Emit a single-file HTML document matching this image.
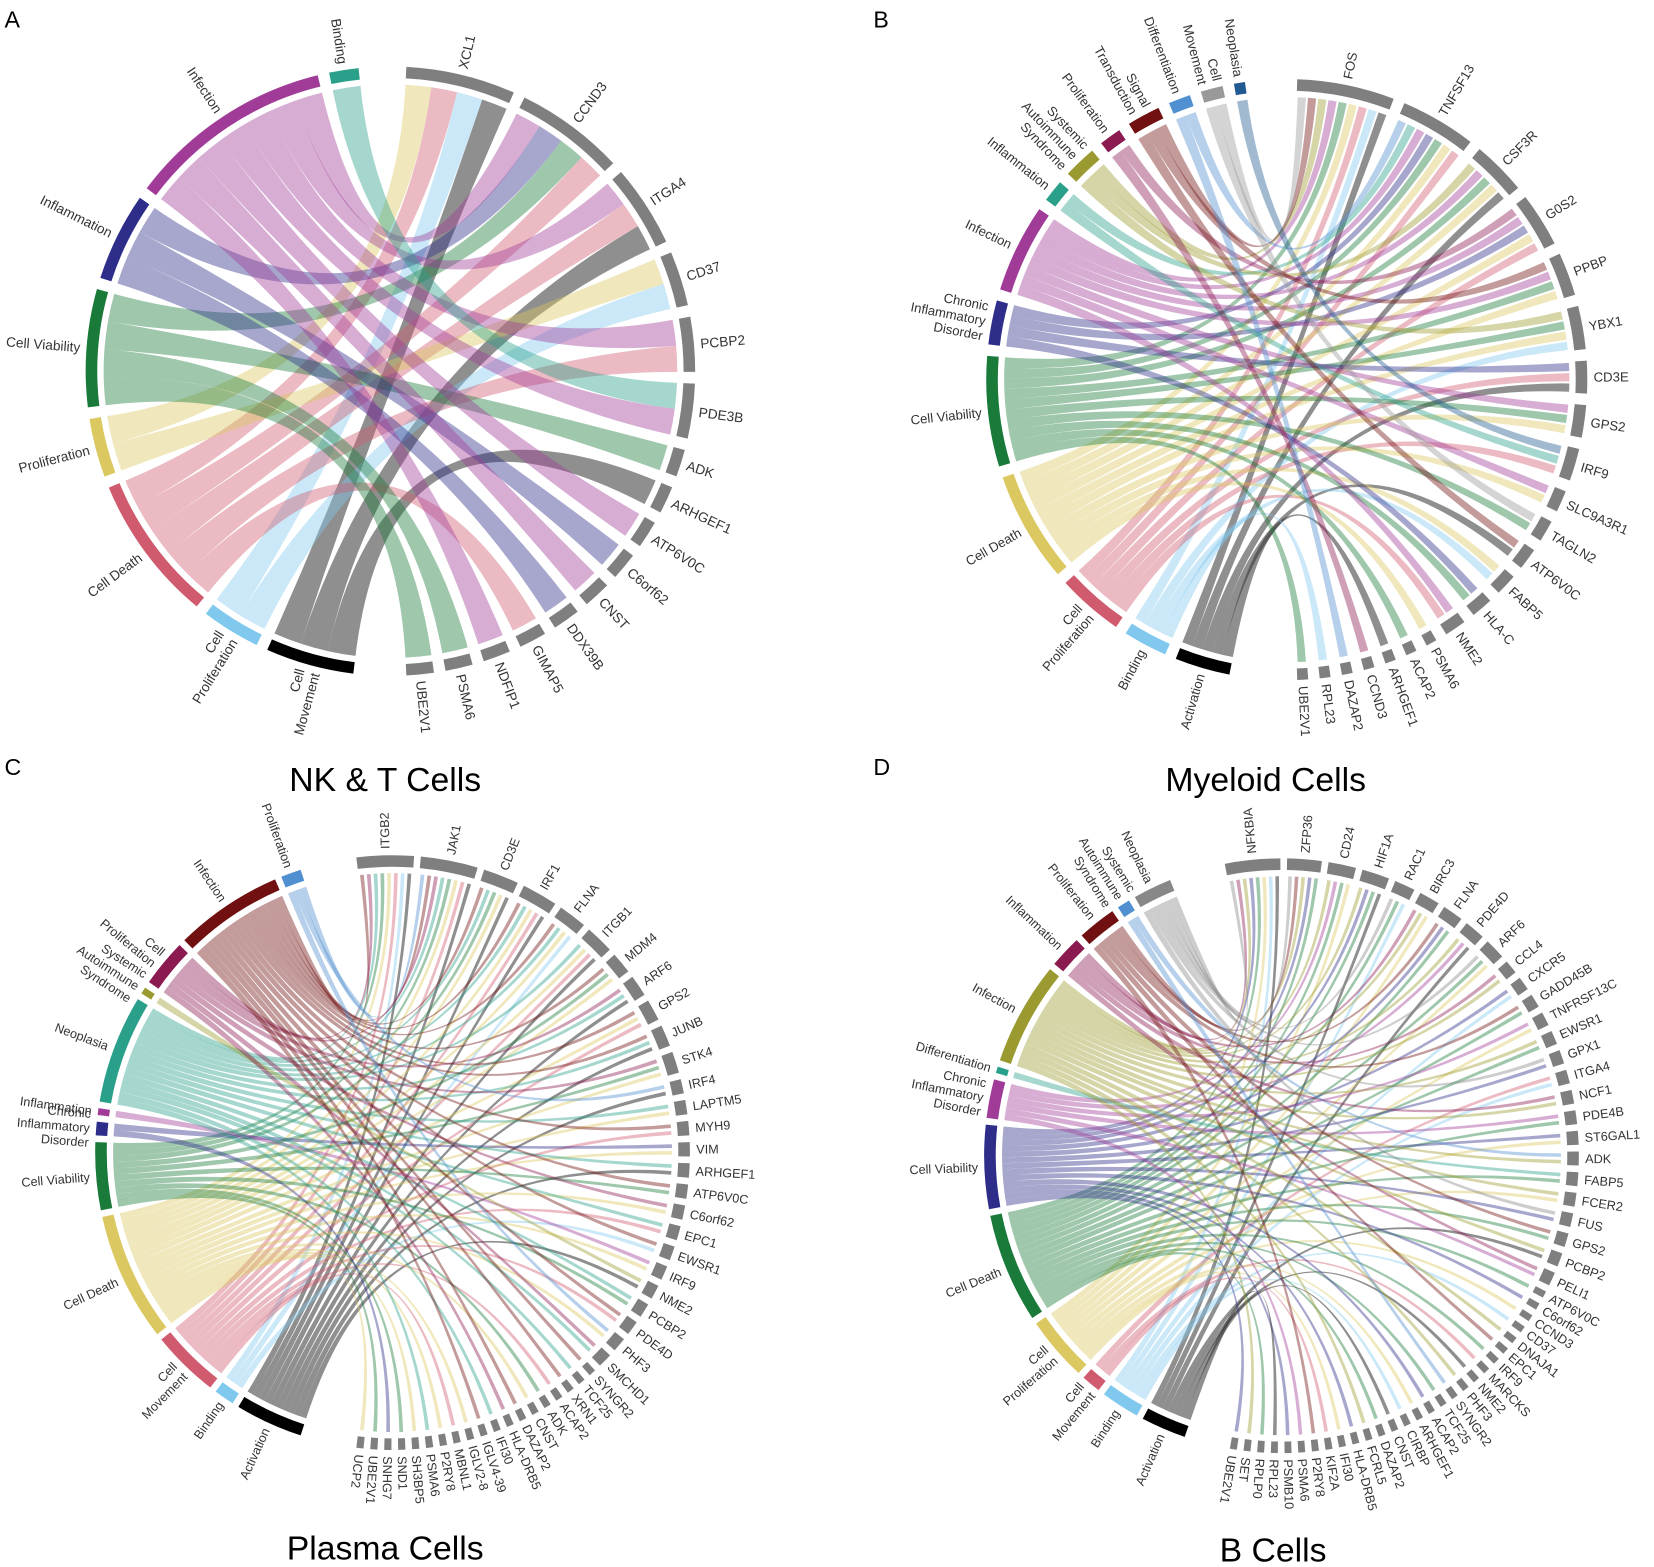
<!DOCTYPE html>
<html><head><meta charset="utf-8"><style>
html,body{margin:0;padding:0;background:#fff;}
svg{display:block;font-family:"Liberation Sans",sans-serif;}
</style></head><body>
<svg id="fig" width="1654" height="1567" viewBox="0 0 1568 1486" xmlns="http://www.w3.org/2000/svg">
<text x="4" y="26" font-size="22">A</text>
<text x="828" y="26" font-size="22">B</text>
<text x="4" y="735" font-size="22">C</text>
<text x="828" y="735" font-size="22">D</text>
<text x="365" y="750" font-size="32" text-anchor="middle">NK &amp; T Cells</text>
<text x="1200" y="750" font-size="32" text-anchor="middle">Myeloid Cells</text>
<text x="365" y="1479" font-size="32" text-anchor="middle">Plasma Cells</text>
<text x="1207" y="1481" font-size="32" text-anchor="middle">B Cells</text>
</svg>
<script>
// ---------- Chart A data ----------
const catKeysA = ["m","q","d","r","v","i","f","b"];
const catNamesA = ["Cell\nMovement","Cell\nProliferation","Cell Death","Proliferation","Cell Viability","Inflammation","Infection","Binding"];
const catColorsA = ["#000000","#80c8ee","#d05a6e","#dcc860","#1a7a3a","#2e2e8a","#a03c98","#2aa08a"];
const genesA = ["XCL1","CCND3","ITGA4","CD37","PCBP2","PDE3B","ADK","ARHGEF1","ATP6V0C","C6orf62","CNST","DDX39B","GIMAP5","NDFIP1","PSMA6","UBE2V1"];
const linksA = ["rdqm","ivdf","fdm","rq","fd","bf","v","m","f","i","f","i","d","f","v","v"];

// ---------- Chart B data ----------
const catKeysB = ["a","b","p","d","v","c","f","i","s","r","t","x","m","n"];
const catNamesB = ["Activation","Binding","Cell\nProliferation","Cell Death","Cell Viability","Chronic\nInflammatory\nDisorder","Infection","Inflammation","Systemic\nAutoimmune\nSyndrome","Proliferation","Signal\nTransduction","Differentiation","Cell\nMovement","Neoplasia"];
const catColorsB = ["#000000","#80c8ee","#d05a6e","#dcc860","#1a7a3a","#2e2e8a","#a03c98","#2aa08a","#9a9a30","#8a1a50","#701010","#5090d0","#999999","#205a90"];
const genesB = ["FOS","TNFSF13","CSF3R","G0S2","PPBP","YBX1","CD3E","GPS2","IRF9","SLC9A3R1","TAGLN2","ATP6V0C","FABP5","HLA-C","NME2","PSMA6","ACAP2","ARHGEF1","CCND3","DAZAP2","RPL23","UBE2V1"];
const linksB = ["abpdvfstm","pdvcfix","advfs","pdcfr","dvft","bdvs","apc","dvf","pin","df","vm","at","bd","vc","pf","d","v","a","r","x","b","v"];

// ---------- Chart C data ----------
const catKeysC = ["a","b","m","d","v","c","i","n","s","p","f","r"];
const catNamesC = ["Activation","Binding","Cell\nMovement","Cell Death","Cell Viability","Chronic\nInflammatory\nDisorder","Inflammation","Neoplasia","Systemic\nAutoimmune\nSyndrome","Cell\nProliferation","Infection","Proliferation"];
const catColorsC = ["#000000","#80c8ee","#d05a6e","#dcc860","#1a7a3a","#2e2e8a","#a03c98","#2aa08a","#9a9a30","#8a1a50","#701010","#5090d0"];
const genesC = ["ITGB2","JAK1","CD3E","IRF1","FLNA","ITGB1","MDM4","ARF6","GPS2","JUNB","STK4","IRF4","LAPTM5","MYH9","VIM","ARHGEF1","ATP6V0C","C6orf62","EPC1","EWSR1","IRF9","NME2","PCBP2","PDE4D","PHF3","SMCHD1","SYNGR2","TCF25","XRN1","ACAP2","ADK","CNST","DAZAP2","HLA-DRB5","IFI30","IGLV4-39","IGLV2-8","MBNL1","P2RY8","PSMA6","SH3BP5","SND1","SNHG7","UBE2V1","UCP2"];
const linksC = ["adnfpvmb","adnfmvrp","adnfv","dnfma","dnfb","admn","dfv","anp","dmf","anf","dvp","ar","dn","mf","dc","an","vf","dp","mn","bf","di","as","vn","mf","dr","np","f","n","f","m","v","d","f","p","n","f","d","m","d","n","d","v","c","v","d"];

// ---------- Chart D data ----------
const catKeysD = ["a","b","m","p","d","v","c","x","f","i","r","s","n"];
const catNamesD = ["Activation","Binding","Cell\nMovement","Cell\nProliferation","Cell Death","Cell Viability","Chronic\nInflammatory\nDisorder","Differentiation","Infection","Inflammation","Proliferation","Systemic\nAutoimmune\nSyndrome","Neoplasia"];
const catColorsD = ["#000000","#80c8ee","#d05a6e","#dcc860","#1a7a3a","#2e2e8a","#a03c98","#2aa08a","#9a9a30","#8a1a50","#701010","#5090d0","#888888"];
const genesD = ["NFKBIA","ZFP36","CD24","HIF1A","RAC1","BIRC3","FLNA","PDE4D","ARF6","CCL4","CXCR5","GADD45B","TNFRSF13C","EWSR1","GPX1","ITGA4","NCF1","PDE4B","ST6GAL1","ADK","FABP5","FCER2","FUS","GPS2","PCBP2","PELI1","ATP6V0C","C6orf62","CCND3","CD37","DNAJA1","EPC1","IRF9","MARCKS","NME2","PHF3","SYNGR2","TCF25","ACAP2","ARHGEF1","CIRBP","CNST","DAZAP2","FCRL5","HLA-DRB5","IFI30","KIF2A","P2RY8","PSMA6","PSMB10","RPL23","RPLP0","SET","UBE2V1"];
const linksD = ["abpdvfin","dvfrn","pdcf","advf","bdn","pfi","dvr","afc","pdn","fi","bv","dr","pc","df","vn","bm","fi","dc","pv","fs","dx","pf","vn","dr","af","ic","d","v","p","b","f","r","d","m","a","f","s","d","v","p","b","a","d","f","v","p","m","r","c","v","a","d","f","v"];

const NS = "http://www.w3.org/2000/svg";
const svg = document.getElementById("fig");
function pol(cx, cy, r, deg) { const a = deg * Math.PI / 180; return [cx + r * Math.sin(a), cy - r * Math.cos(a)]; }
function mk(tag, attrs, parent) { const e = document.createElementNS(NS, tag); for (const k in attrs) e.setAttribute(k, attrs[k]); (parent || svg).appendChild(e); return e; }
function slug(s) { return s.toLowerCase().replace(/[^a-z0-9]+/g, "-").replace(/^-|-$/g, ""); }

function layout(counts, start, end, gap) {
  const total = counts.reduce((a, b) => a + b, 0);
  const unit = (end - start - (counts.length - 1) * gap) / total;
  const out = []; let a = start;
  counts.forEach(c => { out.push([a, a + c * unit, unit]); a += c * unit + gap; });
  return out;
}

function drawChart(cfg, catKeys, catNames, catColors, genes, links) {
  const g = mk("g", {});
  
  
  const L = [];
  links.forEach((s, gi) => { for (const ch of s) { const ci = catKeys.indexOf(ch); if (ci >= 0) L.push({ gi, ci }); } });
  const catCounts = catKeys.map((k, ci) => L.filter(l => l.ci === ci).length);
  const geneCounts = genes.map((n, gi) => L.filter(l => l.gi === gi).length);
  const catSpan = layout(catCounts, cfg.left[0], cfg.left[1], cfg.gap);
  const geneSpan = layout(geneCounts, cfg.right[0], cfg.right[1], cfg.gap);
  catKeys.forEach((k, ci) => {
    const ls = L.filter(l => l.ci === ci).sort((a, b) => b.gi - a.gi);
    ls.forEach((l, j) => { const u = catSpan[ci][2]; l.c1 = catSpan[ci][0] + j * u; l.c2 = l.c1 + u; });
  });
  genes.forEach((n, gi) => {
    const ls = L.filter(l => l.gi === gi).sort((a, b) => b.ci - a.ci);
    ls.forEach((l, j) => { const u = geneSpan[gi][2]; const m = geneSpan[gi][0] + (j + 0.5) * u; const h = u * cfg.shrink / 2; l.g1 = m - h; l.g2 = m + h; });
  });
  const cx = cfg.cx, cy = cfg.cy, rr = cfg.R - 6;
  const lg = mk("g", {}, g);
  
  
  L.forEach(l => {
    const p1 = pol(cx, cy, rr, l.c1), p2 = pol(cx, cy, rr, l.c2), q1 = pol(cx, cy, rr, l.g1), q2 = pol(cx, cy, rr, l.g2);
    const d = `M${p1[0]},${p1[1]} A${rr},${rr} 0 0 1 ${p2[0]},${p2[1]} Q${cx},${cy} ${q1[0]},${q1[1]} A${rr},${rr} 0 0 1 ${q2[0]},${q2[1]} Q${cx},${cy} ${p1[0]},${p1[1]} Z`;
    const col = catColors[l.ci] === "#000000" ? "#333333" : catColors[l.ci];
    const p = mk("path", { d, fill: col, "fill-opacity": catColors[l.ci] === "#000000" ? 0.55 : 0.42 }, lg);
    
    
  });
  const rm = cfg.R + cfg.w / 2;
  function arc(a1, a2, color, nm) {
    const s = pol(cx, cy, rm, a1), e = pol(cx, cy, rm, a2);
    const p = mk("path", { d: `M${s[0]},${s[1]} A${rm},${rm} 0 ${a2 - a1 > 180 ? 1 : 0} 1 ${e[0]},${e[1]}`, fill: "none", stroke: color, "stroke-width": cfg.w }, g);
    
    
  }
  function label(text, ang, right, nm) {
    const r = cfg.R + cfg.w + cfg.off;
    const [x, y] = pol(cx, cy, r, ang);
    const rot = right ? ang - 90 : ang - 270;
    const t = mk("text", { x: 0, y: 0, transform: `translate(${x},${y}) rotate(${rot})`, "font-size": cfg.fs, fill: "#333", "text-anchor": right ? "start" : "end" }, g);
    
    
    const lines = text.split("\n"); const lh = cfg.fs * 1.15;
    lines.forEach((ln, i) => { const ts = mk("tspan", { x: 0, y: (i - (lines.length - 1) / 2) * lh + cfg.fs * 0.35 }, t); ts.textContent = ln; });
  }
  catSpan.forEach((s, ci) => { if (catCounts[ci] === 0) return; arc(s[0], s[1], catColors[ci], 'arc-' + slug(catNames[ci])); label(catNames[ci], (s[0] + s[1]) / 2, false, 'label-' + slug(catNames[ci])); });
  geneSpan.forEach((s, gi) => { if (geneCounts[gi] === 0) return; arc(s[0], s[1], "#7f7f7f", 'arc-gene-' + slug(genes[gi])); label(genes[gi], (s[0] + s[1]) / 2, true, 'label-gene-' + slug(genes[gi])); });
}

drawChart({ name: "chord-nk-t-cells", cx: 370, cy: 352, R: 278, w: 11, off: 6, fs: 13, gap: 2.2, shrink: 1.0, left: [187, 354], right: [3, 177] }, catKeysA, catNamesA, catColorsA, genesA, linksA);
drawChart({ name: "chord-myeloid-cells", cx: 1220, cy: 360, R: 274, w: 11, off: 6, fs: 12.5, gap: 2.2, shrink: 0.8, left: [191, 352], right: [2, 178] }, catKeysB, catNamesB, catColorsB, genesB, linksB);
drawChart({ name: "chord-plasma-cells", cx: 372, cy: 1093, R: 271, w: 11, off: 6, fs: 12, gap: 1.3, shrink: 0.55, left: [198, 342], right: [-7, 187] }, catKeysC, catNamesC, catColorsC, genesC, linksC);
drawChart({ name: "chord-b-cells", cx: 1215, cy: 1096, R: 271, w: 11, off: 6, fs: 12, gap: 1.3, shrink: 0.55, left: [199, 338], right: [-11, 190] }, catKeysD, catNamesD, catColorsD, genesD, linksD);
</script>
</body></html>
